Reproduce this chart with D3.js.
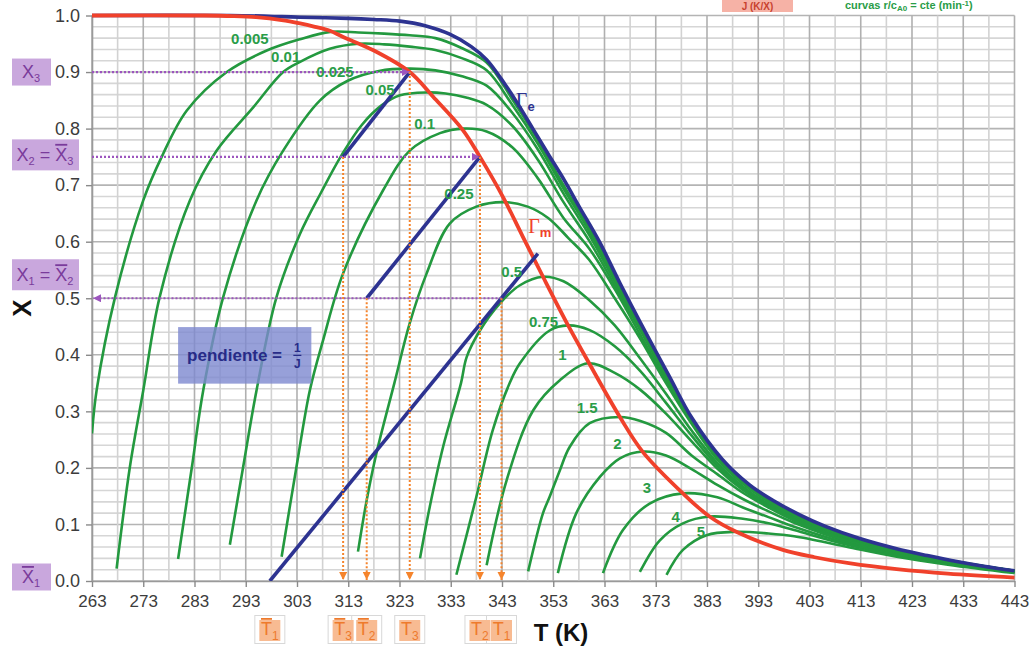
<!DOCTYPE html>
<html><head><meta charset="utf-8">
<script src="https://cdn.jsdelivr.net/npm/d3@7"></script>
<style>
html,body{margin:0;padding:0;background:#fff;}
svg{display:block;font-family:"Liberation Sans",Arial,sans-serif;}
</style></head><body>
<svg id="chart" width="1033" height="650"></svg>
<script>
// ---------------- DATA (T in K, X conversion) ----------------
const tTicks = [263,273,283,293,303,313,323,333,343,353,363,373,383,393,403,413,423,433,443];
const xTicks = [0,0.1,0.2,0.3,0.4,0.5,0.6,0.7,0.8,0.9,1.0];

// equilibrium curve Γe
const gammaE = [[263,1],[290,1],[300,.998],[303.6,.997],[313,.995],[318,.993],[323.1,.990],[328,.982],[332.8,.967],[337,.945],[340,.922],[343.6,.878],[346,.845],[349,.800],[352,.755],[355.2,.708],[358,.663],[362,.600],[366,.527],[370,.457],[375.7,.361],[380,.289],[386,.215],[391.3,.170],[396,.142],[401.1,.117],[406,.097],[412.8,.075],[420,.057],[426,.045],[432,.034],[437,.026],[443,.018]];
// locus of maximum rate Γm
const gammaM = [[263,1],[285,1],[290.5,.999],[295,.997],[300,.992],[303.6,.986],[306.5,.980],[309.4,.973],[312,.962],[318,.938],[325,.900],[329.6,.856],[335.4,.797],[338.7,.750],[343.2,.679],[347,.610],[351,.538],[355.9,.452],[360,.385],[366,.290],[370.5,.228],[378.3,.155],[383.5,.114],[388.7,.087],[397.8,.055],[404,.042],[411,.031],[420,.021],[430,.013],[443,.006]];

// constant-rate curves r/cA0 (min^-1)
const r0005 = [[263.0,.261],[263.9,.337],[267.5,.502],[273.0,.673],[276.6,.750],[281.5,.832],[289.3,.900],[297.1,.938],[303.6,.958],[309.5,.971],[315,.970],[320,.968],[325,.965],[330,.960],[335,.943],[340,.917],[345,.852],[350,.780],[355,.700],[360,.624],[365,.540],[370,.455],[375,.371],[380,.288],[385,.224],[390,.179],[395,.146],[400,.120],[410,.079],[420,.056],[430,.037],[443,.018]];
const r001 = [[267.8,.022],[270.4,.202],[273.0,.337],[276.2,.502],[282.1,.673],[287.3,.761],[294.5,.838],[300.3,.900],[303.6,.918],[309.4,.941],[315,.950],[320,.949],[325,.945],[330,.939],[335,.925],[340,.903],[345,.842],[350,.773],[355,.694],[360,.619],[365,.536],[370,.452],[375,.369],[380,.287],[385,.223],[390,.178],[395,.145],[400,.119],[410,.079],[420,.056],[430,.036],[443,.018]];
const r0025 = [[279.8,.039],[282.5,.202],[284.7,.337],[288.6,.502],[295.1,.673],[300.3,.761],[307.5,.850],[313,.885],[319,.902],[325,.906],[330,.903],[335,.893],[340,.876],[345,.828],[350,.763],[355,.685],[360,.612],[365,.530],[370,.448],[375,.366],[380,.286],[385,.222],[390,.177],[395,.144],[400,.118],[410,.078],[420,.056],[430,.036],[443,.0178]];
const r005 = [[289.9,.064],[292.5,.202],[295.1,.337],[299.0,.502],[303.6,.614],[307.7,.687],[311.7,.753],[315.6,.806],[319.5,.841],[323.1,.859],[328.3,.864],[332,.862],[336,.855],[340,.842],[345,.805],[350,.745],[355,.670],[360,.602],[365,.523],[370,.443],[375,.362],[380,.284],[385,.220],[390,.176],[395,.143],[400,.117],[410,.078],[420,.055],[430,.036],[443,.0177]];
const r01 = [[300.0,.043],[302.9,.202],[305.5,.337],[308.1,.426],[312.0,.544],[319.8,.691],[325.0,.761],[330.9,.792],[335.4,.800],[340,.795],[345,.767],[350,.712],[355,.642],[360,.588],[365,.516],[370,.435],[375,.356],[380,.281],[385,.218],[390,.174],[395,.142],[400,.116],[410,.077],[420,.055],[430,.036],[443,.0175]];
const r025 = [[314.9,.052],[316.6,.143],[318.5,.226],[322.0,.350],[325.0,.456],[328.3,.544],[332.8,.632],[338,.662],[343.5,.670],[348,.662],[352,.642],[356,.606],[360,.568],[365,.500],[370,.428],[375,.350],[380,.278],[385,.215],[390,.172],[395,.140],[400,.115],[410,.076],[420,.054],[430,.035],[443,.0173]];
const r05 = [[327.0,.040],[328.9,.131],[331.5,.237],[335.0,.350],[336.1,.396],[338.7,.443],[342.6,.491],[346.5,.523],[351.0,.538],[355,.530],[360,.497],[365,.452],[370,.393],[375,.331],[380,.266],[385,.209],[390,.167],[395,.136],[400,.112],[410,.075],[420,.053],[430,.035],[443,.017]];
const r075 = [[334.1,.011],[338.0,.149],[341.2,.267],[344.5,.350],[346.5,.385],[352.3,.443],[355.9,.452],[360,.444],[365,.415],[370,.371],[375,.315],[380,.257],[385,.204],[390,.164],[395,.134],[400,.111],[410,.074],[420,.053],[430,.035],[443,.017]];
const r1 = [[340.0,.028],[343.9,.178],[349.1,.302],[354.3,.355],[359.8,.385],[365,.368],[370,.338],[375,.296],[380,.247],[385,.199],[390,.161],[395,.132],[400,.109],[410,.073],[420,.052],[430,.034],[443,.0168]];
const r15 = [[348.1,.017],[351.0,.120],[352.3,.149],[354.3,.196],[356.2,.237],[360.1,.279],[366.0,.290],[370,.283],[375,.262],[380,.222],[385,.189],[390,.156],[395,.130],[400,.107],[410,.072],[420,.051],[430,.034],[443,.0165]];
const r2 = [[353.9,.014],[357.5,.120],[362.1,.184],[366.0,.217],[370.5,.229],[375,.222],[380,.198],[385,.170],[390,.145],[395,.123],[400,.103],[410,.071],[420,.050],[430,.033],[443,.016]];
const r3 = [[362.7,.014],[366.6,.090],[371.8,.137],[378.3,.155],[385,.148],[390,.130],[395,.113],[400,.096],[410,.068],[420,.048],[430,.032],[443,.0155]];
const r4 = [[369.9,.016],[373.8,.072],[378.3,.102],[383.5,.114],[390,.110],[395,.102],[400,.090],[410,.065],[420,.046],[430,.031],[443,.015]];
const r5 = [[375.1,.011],[378.3,.055],[382.9,.081],[388.7,.087],[395,.084],[400,.079],[410,.061],[420,.043],[430,.029],[443,.014]];

const rateLabels = ["0.005","0.01","0.025","0.05","0.1","0.25","0.5","0.75","1","1.5","2","3","4","5"];
const rateLabelT = [293.8,300.8,310.4,319.2,327.9,334.6,344.9,351.1,354.8,359.6,365.5,371.3,376.9,381.8];
const rateLabelX = [0.959,0.928,0.901,0.869,0.809,0.686,0.548,0.459,0.401,0.307,0.244,0.165,0.114,0.087];

// adiabatic operating lines (slope 1/J)
const opLine1 = [[297.7,0],[350.0,0.579]];
const opLine2 = [[316.6,0.5],[338.7,0.75]];
const opLine3 = [[312.0,0.75],[325.0,0.9]];

// conversion levels (purple arrows)
const levelX = [0.9, 0.75, 0.5];
const levelT = [325.0, 338.7, 342.9];

// temperature markers
const tempSub = ["1","3","2","3","2","1"];
const tempBar = [true,true,true,false,false,false];
const tempT = [297.7,312.0,316.6,325.0,338.7,342.9];
const tempX = [0,0.75,0.5,0.9,0.75,0.5];

const slopeBoxT = [279.8,305.8];
const slopeBoxX = [0.349,0.449];

// ---------------- CHART ----------------
const svg = d3.select("#chart");
const x = d3.scaleLinear().domain([263,443]).range([92,1014.5]);
const y = d3.scaleLinear().domain([0,1]).range([581,15.5]);

const GREEN = "#23993f", NAVY = "#2d3391", RED = "#f0412b", PURPLE = "#9c55be", ORANGE = "#f5842c";

const defs = svg.append("defs");
defs.append("clipPath").attr("id","plotclip").append("rect")
  .attr("x",x(263)).attr("y",y(1)-3).attr("width",x(443)-x(263)+2).attr("height",y(0)-y(1)+3);
function marker(id,color,size){
  defs.append("marker").attr("id",id).attr("viewBox","0 0 10 10").attr("refX",10).attr("refY",5)
    .attr("markerUnits","userSpaceOnUse").attr("markerWidth",size).attr("markerHeight",size)
    .attr("orient","auto").append("path").attr("d","M0,0 L10,5 L0,10 z").attr("fill",color);
}
marker("arrP",PURPLE,8);
marker("arrO",ORANGE,8);

// grid
const grid = svg.append("g");
d3.range(0,51).forEach(i=>{
  const v=i/50;
  grid.append("line").attr("x1",x(263)).attr("x2",x(443)).attr("y1",y(v)).attr("y2",y(v))
    .attr("stroke", i%5===0 ? "#b4b4b4" : "#d6d6d6").attr("stroke-width",1.6);
});
d3.range(263,444,5).forEach(t=>{
  const major=(t-263)%10===0;
  grid.append("line").attr("x1",x(t)).attr("x2",x(t)).attr("y1",y(0)).attr("y2",y(1))
    .attr("stroke", major ? "#b0b0b0" : "#d2d2d2").attr("stroke-width",1.6);
});

// axes
const xAxis = svg.append("g").attr("transform",`translate(0,${y(0)})`)
  .call(d3.axisBottom(x).tickValues(tTicks).tickSize(6).tickSizeOuter(0).tickPadding(8).tickFormat(d3.format("d")));
const yAxis = svg.append("g").attr("transform",`translate(${x(263)},0)`)
  .call(d3.axisLeft(y).tickValues(xTicks).tickSize(6).tickSizeOuter(0).tickPadding(6).tickFormat(d3.format(".1f")));
[xAxis,yAxis].forEach(a=>{
  a.selectAll("path.domain").attr("stroke","#9a9a9a").attr("stroke-width",1.6);
  a.selectAll(".tick line").attr("stroke","#8a8a8a").attr("stroke-width",1.4);
  a.selectAll("text").attr("fill","#3c3c3c").attr("font-family","Liberation Sans, Arial, sans-serif");
});
xAxis.selectAll("text").attr("font-size",17);
yAxis.selectAll("text").attr("font-size",18);

const line = d3.line().x(d=>x(d[0])).y(d=>y(d[1])).curve(d3.curveCatmullRom.alpha(0.5));
const plot = svg.append("g").attr("clip-path","url(#plotclip)");

const greenSeries = [r0005,r001,r0025,r005,r01,r025,r05,r075,r1,r15,r2,r3,r4,r5];
plot.selectAll("path.green").data(greenSeries).enter().append("path").attr("class","green")
  .attr("d",line).attr("fill","none").attr("stroke",GREEN).attr("stroke-width",2.6);

plot.append("path").attr("d",line(gammaE)).attr("fill","none").attr("stroke",NAVY).attr("stroke-width",3.6);
plot.append("path").attr("d",line(gammaM)).attr("fill","none").attr("stroke",RED).attr("stroke-width",3.8);

// purple dotted level lines
levelX.forEach((lv,i)=>{
  const from = i<2 ? x(263) : x(levelT[i]);
  const to = i<2 ? x(levelT[i]) : x(263)+1;
  svg.append("line").attr("x1",from).attr("x2",to).attr("y1",y(lv)).attr("y2",y(lv))
    .attr("stroke",PURPLE).attr("stroke-width",2.2).attr("stroke-dasharray","2,2")
    .attr("marker-end","url(#arrP)");
});
// orange dotted verticals
tempT.forEach((t,i)=>{
  if (tempX[i] <= 0) return;
  svg.append("line").attr("x1",x(t)).attr("x2",x(t)).attr("y1",y(tempX[i])).attr("y2",y(0)-1)
    .attr("stroke",ORANGE).attr("stroke-width",2).attr("stroke-dasharray","2,2")
    .attr("marker-end","url(#arrO)");
});

// operating lines
[opLine1,opLine2,opLine3].forEach(l=>{
  plot.append("path").attr("d",d3.line().x(d=>x(d[0])).y(d=>y(d[1]))(l))
    .attr("fill","none").attr("stroke",NAVY).attr("stroke-width",3.6);
});

// slope box
svg.append("rect").attr("x",x(slopeBoxT[0])).attr("y",y(slopeBoxX[1]))
  .attr("width",x(slopeBoxT[1])-x(slopeBoxT[0])).attr("height",y(slopeBoxX[0])-y(slopeBoxX[1]))
  .attr("fill","#7d88cf").attr("opacity",0.8);
const bx = x(slopeBoxT[0]), by = (y(slopeBoxX[0])+y(slopeBoxX[1]))/2;
svg.append("text").attr("x",bx+9).attr("y",by+6).attr("font-size",17).attr("font-weight","bold")
  .attr("fill","#272b88").text("pendiente =");
const fx = x(slopeBoxT[1])-14;
svg.append("text").attr("x",fx).attr("y",by-3).attr("text-anchor","middle").attr("font-size",12)
  .attr("font-weight","bold").attr("fill","#272b88").text("1");
svg.append("line").attr("x1",fx-4).attr("x2",fx+4).attr("y1",by).attr("y2",by).attr("stroke","#272b88").attr("stroke-width",1.3);
svg.append("text").attr("x",fx).attr("y",by+13).attr("text-anchor","middle").attr("font-size",12)
  .attr("font-weight","bold").attr("fill","#272b88").text("J");

// rate labels
rateLabels.forEach((lab,i)=>{
  svg.append("text").attr("x",x(rateLabelT[i])).attr("y",y(rateLabelX[i]))
    .attr("text-anchor","middle").attr("dominant-baseline","central")
    .attr("font-size",15).attr("font-weight","bold").attr("fill","#2a9d48").text(lab);
});

// Gamma labels
function gammaLabel(T,X,sub,color){
  const t = svg.append("text").attr("x",x(T)).attr("y",y(X)).attr("fill",color);
  t.append("tspan").attr("font-family","Liberation Serif, Times New Roman, serif").attr("font-size",20).text("Γ");
  t.append("tspan").attr("dy",4).attr("font-size",13).attr("font-weight","bold").text(sub);
}
gammaLabel(345.7,0.838,"e",NAVY);
gammaLabel(348.1,0.615,"m",RED);

// left purple boxes
function purpleBox(x0,y0,w,h,parts,cx,cy){
  svg.append("rect").attr("x",x0).attr("y",y0).attr("width",w).attr("height",h).attr("fill","#c9a7dd");
  const t = svg.append("text").attr("x",cx).attr("y",cy).attr("text-anchor","middle")
    .attr("font-size",18).attr("fill","#7a3b9b");
  parts.forEach(p=>{
    const s = t.append("tspan").text(p.t);
    if (p.sub){ s.attr("font-size",11).attr("dy",4); }
    if (p.up){ s.attr("dy",-4); }
    if (p.bar){ s.style("text-decoration","overline"); }
  });
}
purpleBox(12, y(0.9)-13.5, 39, 27, [{t:"X"},{t:"3",sub:true}], 31, y(0.9)+6);
purpleBox(12, y(0.75)-17.5, 67, 31, [{t:"X"},{t:"2",sub:true},{t:" = ",up:true},{t:"X",bar:true},{t:"3",sub:true}], 45, y(0.75)+4);
purpleBox(12, y(0.5)-39, 67, 31, [{t:"X"},{t:"1",sub:true},{t:" = ",up:true},{t:"X",bar:true},{t:"2",sub:true}], 45, y(0.5)-17);
purpleBox(12, y(0)-17.5, 39, 27, [{t:"X",bar:true},{t:"1",sub:true}], 31, y(0)+2);

// temperature labels
tempT.forEach((t,i)=>{
  const cx = x(t);
  svg.append("rect").attr("x",cx-15).attr("y",615.5).attr("width",30).attr("height",28)
    .attr("fill","#fff").attr("stroke","#d8d8d8").attr("stroke-width",1);
});
tempT.forEach((t,i)=>{
  const cx = x(t);
  svg.append("rect").attr("x",cx-10.5).attr("y",620).attr("width",21).attr("height",21).attr("fill","#f8bb92");
  const tx = svg.append("text").attr("x",cx).attr("y",635).attr("text-anchor","middle")
    .attr("font-size",18).attr("fill","#ee7a2c");
  const T = tx.append("tspan").text("T");
  if (tempBar[i]) T.style("text-decoration","overline");
  tx.append("tspan").attr("font-size",12).attr("dy",5).text(tempSub[i]);
});

// axis titles
svg.append("text").attr("transform","translate(31,308) rotate(-90)").attr("text-anchor","middle")
  .attr("font-size",26).attr("font-weight","bold").attr("fill","#111").text("X");
svg.append("text").attr("x",561).attr("y",641).attr("text-anchor","middle")
  .attr("font-size",24).attr("font-weight","bold").attr("fill","#111").text("T (K)");

// legend strip at top (kept small so it fits)
svg.append("rect").attr("x",722).attr("y",0).attr("width",71).attr("height",12).attr("fill","#f6b2a6");
svg.append("text").attr("x",757.5).attr("y",10).attr("text-anchor","middle").attr("font-size",10)
  .attr("font-weight","bold").attr("fill","#c8422f").text("J (K/X)");
const lg = svg.append("text").attr("x",845).attr("y",9).attr("font-size",11).attr("font-weight","bold").attr("fill","#2a9d48");
lg.append("tspan").text("curvas r/c");
lg.append("tspan").attr("font-size",8).attr("dy",2).text("A0");
lg.append("tspan").attr("dy",-2).text(" = cte (min");
lg.append("tspan").attr("font-size",8).attr("dy",-3).text("-1");
lg.append("tspan").attr("dy",3).text(")");
</script></body></html>
